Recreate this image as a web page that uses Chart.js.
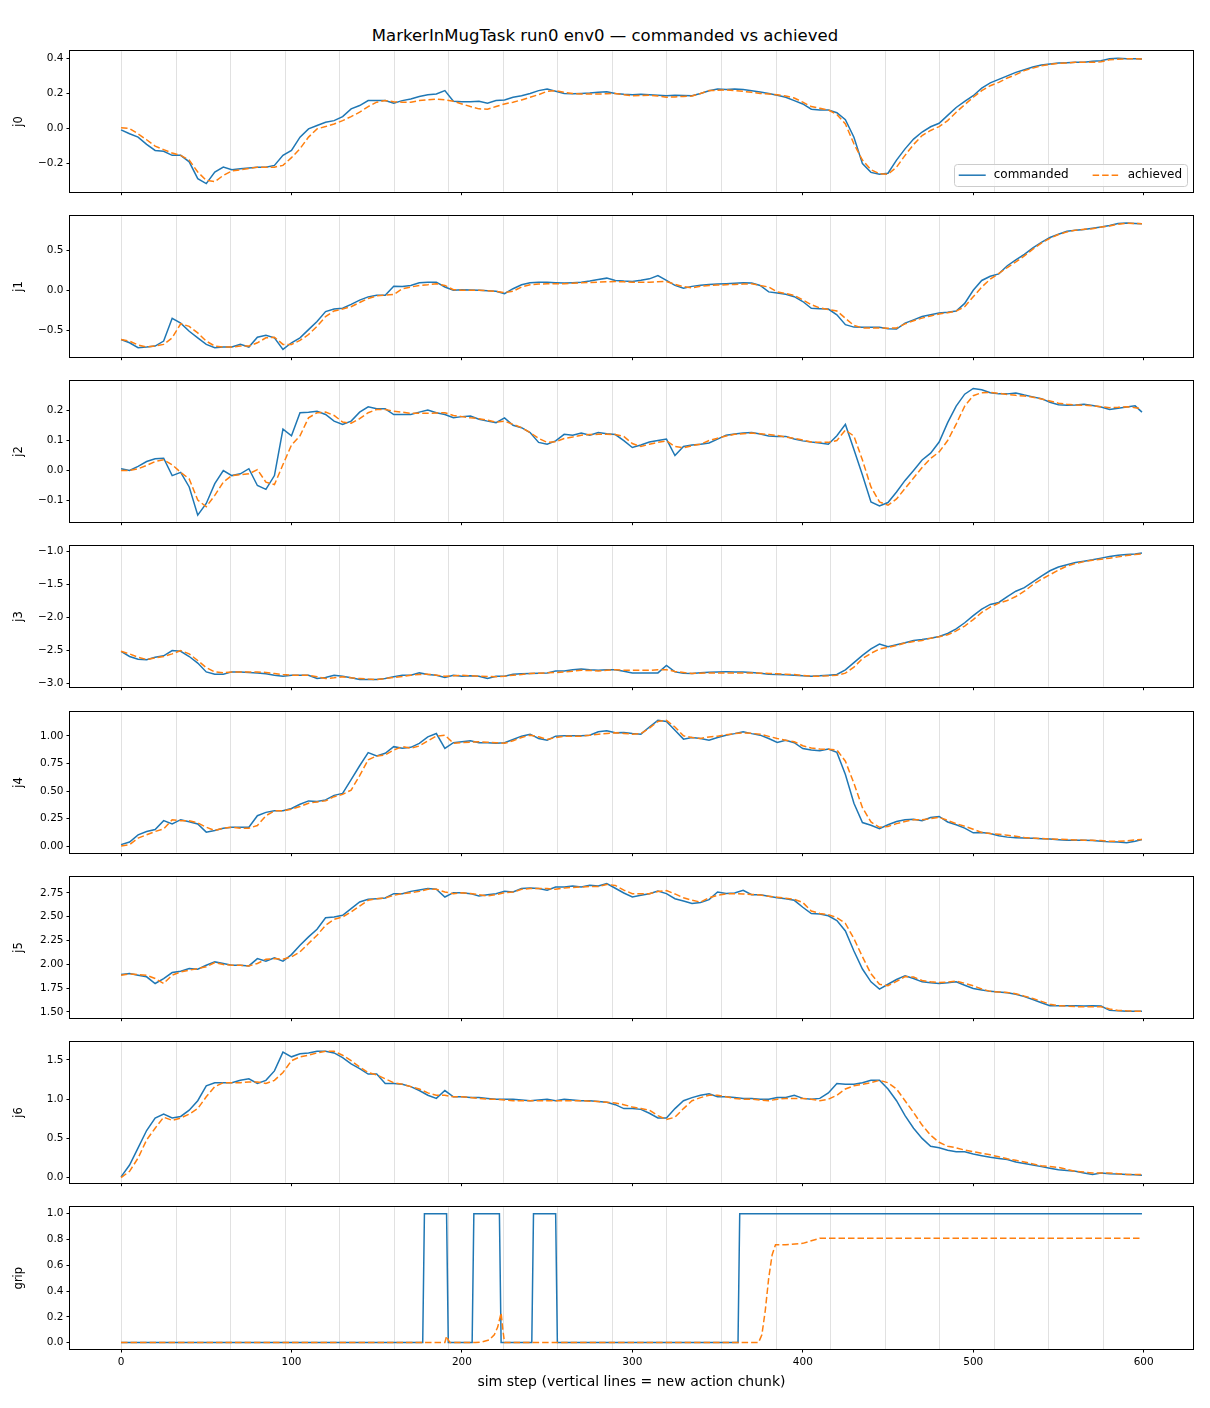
<!DOCTYPE html>
<html>
<head>
<meta charset="utf-8">
<title>MarkerInMugTask run0 env0 — commanded vs achieved</title>
<script src="https://cdn.jsdelivr.net/npm/chart.js@4.4.1/dist/chart.umd.min.js"></script>
<style>
  html, body { margin: 0; padding: 0; background: #fff; }
  body { width: 1210px; height: 1408px; position: relative; overflow: hidden; font-family: "DejaVu Sans", sans-serif; }
  #title { position: absolute; top: 26px; left: 0; width: 1210px; text-align: center; font-size: 16.5px; line-height: 20px; color: #000; }
  .panel { position: absolute; left: 0; width: 1210px; }
</style>
</head>
<body>
<div id="title">MarkerInMugTask run0 env0 — commanded vs achieved</div>
<div id="panels"></div>
<script>
// sim steps sampled every 5 (plus the last step)
const steps = [
  0,5,10,15,20,25,30,35,40,45,
  50,55,60,65,70,75,80,85,90,95,
  100,105,110,115,120,125,130,135,140,145,
  150,155,160,165,170,175,180,185,190,195,
  200,205,210,215,220,225,230,235,240,245,
  250,255,260,265,270,275,280,285,290,295,
  300,305,310,315,320,325,330,335,340,345,
  350,355,360,365,370,375,380,385,390,395,
  400,405,410,415,420,425,430,435,440,445,
  450,455,460,465,470,475,480,485,490,495,
  500,505,510,515,520,525,530,535,540,545,
  550,555,560,565,570,575,580,585,590,595,
  599
];

// new action chunk every 32 steps
const chunkStarts = [0,32,64,96,128,160,192,224,256,288,320,352,384,416,448,480,512,544,576];

const j0Cmd = [
  -0.008,-0.03,-0.049,-0.09,-0.125,-0.13,-0.153,-0.153,-0.19,-0.286,
  -0.314,-0.248,-0.22,-0.235,-0.229,-0.225,-0.22,-0.22,-0.21,-0.153,
  -0.125,-0.049,-0.002,0.017,0.036,0.045,0.068,0.112,0.131,0.159,
  0.159,0.159,0.144,0.159,0.168,0.182,0.193,0.197,0.216,0.155,
  0.153,0.152,0.155,0.144,0.159,0.163,0.178,0.187,0.2,0.216,
  0.225,0.212,0.2,0.198,0.2,0.202,0.206,0.21,0.2,0.195,
  0.193,0.195,0.192,0.19,0.187,0.19,0.188,0.187,0.2,0.215,
  0.225,0.222,0.225,0.222,0.215,0.208,0.2,0.19,0.178,0.159,
  0.14,0.11,0.106,0.106,0.09,0.05,-0.05,-0.2,-0.25,-0.261,
  -0.255,-0.18,-0.116,-0.06,-0.02,0.01,0.03,0.075,0.12,0.155,
  0.187,0.23,0.26,0.28,0.3,0.32,0.335,0.35,0.362,0.368,
  0.373,0.375,0.377,0.378,0.383,0.386,0.398,0.4,0.398,0.397,
  0.396
];
const j0Ach = [
  0.004,0.0,-0.03,-0.064,-0.1,-0.12,-0.14,-0.153,-0.18,-0.248,
  -0.295,-0.303,-0.267,-0.242,-0.235,-0.228,-0.22,-0.22,-0.22,-0.21,
  -0.166,-0.115,-0.049,-0.002,0.011,0.026,0.045,0.068,0.093,0.125,
  0.15,0.159,0.153,0.15,0.15,0.159,0.163,0.168,0.163,0.155,
  0.14,0.125,0.112,0.11,0.125,0.14,0.15,0.163,0.178,0.193,
  0.212,0.216,0.206,0.2,0.197,0.197,0.197,0.198,0.2,0.193,
  0.187,0.188,0.19,0.185,0.178,0.18,0.183,0.185,0.2,0.216,
  0.218,0.22,0.216,0.212,0.206,0.2,0.196,0.193,0.185,0.174,
  0.15,0.125,0.115,0.106,0.08,0.026,-0.087,-0.18,-0.235,-0.257,
  -0.261,-0.22,-0.153,-0.091,-0.04,-0.011,0.011,0.045,0.093,0.136,
  0.178,0.216,0.244,0.263,0.288,0.307,0.33,0.344,0.358,0.365,
  0.371,0.374,0.377,0.377,0.377,0.38,0.392,0.395,0.397,0.397,
  0.396
];

const j1Cmd = [
  -0.615,-0.656,-0.717,-0.709,-0.697,-0.635,-0.35,-0.41,-0.512,-0.594,
  -0.676,-0.717,-0.709,-0.709,-0.676,-0.709,-0.586,-0.561,-0.594,-0.738,
  -0.656,-0.594,-0.492,-0.389,-0.266,-0.234,-0.225,-0.176,-0.123,-0.082,
  -0.061,-0.061,0.05,0.049,0.061,0.094,0.102,0.102,0.041,0.0,
  0.008,0.005,0.0,-0.005,-0.012,-0.041,0.02,0.07,0.094,0.1,
  0.102,0.095,0.09,0.095,0.102,0.115,0.135,0.152,0.123,0.115,
  0.11,0.125,0.143,0.184,0.123,0.061,0.025,0.049,0.062,0.074,
  0.078,0.082,0.088,0.094,0.09,0.06,-0.02,-0.035,-0.05,-0.08,
  -0.14,-0.225,-0.23,-0.234,-0.307,-0.43,-0.46,-0.463,-0.463,-0.463,
  -0.48,-0.485,-0.41,-0.37,-0.328,-0.305,-0.285,-0.275,-0.26,-0.164,
  0.0,0.123,0.176,0.205,0.307,0.38,0.45,0.53,0.6,0.66,
  0.7,0.738,0.75,0.76,0.775,0.791,0.81,0.835,0.84,0.835,
  0.832
];
const j1Ach = [
  -0.615,-0.635,-0.684,-0.709,-0.697,-0.676,-0.594,-0.418,-0.451,-0.533,
  -0.635,-0.697,-0.709,-0.709,-0.697,-0.697,-0.656,-0.594,-0.586,-0.676,
  -0.676,-0.627,-0.553,-0.451,-0.328,-0.258,-0.234,-0.205,-0.152,-0.102,
  -0.07,-0.061,-0.053,0.02,0.041,0.061,0.07,0.082,0.061,0.008,
  0.0,0.0,0.0,-0.005,-0.012,-0.029,-0.012,0.041,0.07,0.078,
  0.082,0.082,0.082,0.088,0.094,0.098,0.102,0.106,0.11,0.106,
  0.102,0.102,0.102,0.106,0.11,0.075,0.045,0.03,0.05,0.061,
  0.065,0.07,0.074,0.078,0.082,0.06,0.041,-0.02,-0.04,-0.065,
  -0.12,-0.18,-0.22,-0.24,-0.258,-0.35,-0.44,-0.47,-0.471,-0.471,
  -0.475,-0.47,-0.42,-0.38,-0.348,-0.32,-0.297,-0.28,-0.26,-0.205,
  -0.08,0.04,0.14,0.21,0.285,0.355,0.43,0.515,0.59,0.65,
  0.697,0.73,0.752,0.762,0.77,0.79,0.805,0.825,0.84,0.835,
  0.832
];

const j2Cmd = [
  0.006,0.0,0.014,0.03,0.039,0.041,-0.017,-0.006,-0.055,-0.149,
  -0.11,-0.044,0.0,-0.017,-0.011,0.006,-0.05,-0.063,-0.017,0.138,
  0.116,0.193,0.195,0.198,0.187,0.165,0.154,0.165,0.195,0.213,
  0.206,0.206,0.187,0.187,0.187,0.195,0.202,0.193,0.187,0.176,
  0.18,0.182,0.171,0.165,0.16,0.176,0.151,0.143,0.127,0.094,
  0.088,0.099,0.121,0.118,0.125,0.118,0.127,0.123,0.12,0.1,
  0.077,0.085,0.095,0.1,0.105,0.05,0.08,0.085,0.088,0.092,
  0.105,0.118,0.122,0.125,0.127,0.122,0.115,0.114,0.114,0.105,
  0.099,0.095,0.092,0.088,0.116,0.154,0.07,-0.015,-0.105,-0.118,
  -0.107,-0.072,-0.033,0.0,0.035,0.058,0.095,0.16,0.215,0.255,
  0.274,0.27,0.26,0.256,0.256,0.259,0.252,0.246,0.24,0.228,
  0.22,0.218,0.219,0.221,0.217,0.212,0.204,0.208,0.212,0.216,
  0.195
];
const j2Ach = [
  0.0,0.0,0.006,0.017,0.03,0.036,0.019,-0.006,-0.028,-0.099,
  -0.121,-0.083,-0.039,-0.017,-0.014,-0.011,0.003,-0.039,-0.047,0.02,
  0.085,0.116,0.176,0.193,0.195,0.184,0.162,0.158,0.173,0.193,
  0.204,0.204,0.198,0.195,0.191,0.191,0.191,0.192,0.193,0.184,
  0.18,0.176,0.173,0.168,0.162,0.165,0.154,0.143,0.127,0.107,
  0.094,0.096,0.107,0.112,0.118,0.12,0.121,0.121,0.12,0.114,
  0.09,0.08,0.088,0.094,0.099,0.08,0.076,0.083,0.088,0.1,
  0.108,0.115,0.121,0.123,0.125,0.123,0.12,0.117,0.112,0.107,
  0.102,0.095,0.094,0.094,0.1,0.135,0.115,0.035,-0.055,-0.105,
  -0.116,-0.095,-0.06,-0.025,0.01,0.04,0.062,0.1,0.155,0.215,
  0.25,0.26,0.261,0.258,0.254,0.251,0.249,0.245,0.239,0.232,
  0.225,0.221,0.219,0.218,0.216,0.213,0.21,0.211,0.213,0.21,
  0.206
];

const j3Cmd = [
  -2.509,-2.588,-2.628,-2.638,-2.598,-2.578,-2.499,-2.509,-2.588,-2.687,
  -2.821,-2.856,-2.856,-2.821,-2.821,-2.83,-2.836,-2.85,-2.871,-2.886,
  -2.871,-2.87,-2.871,-2.921,-2.906,-2.871,-2.886,-2.911,-2.936,-2.936,
  -2.936,-2.921,-2.896,-2.871,-2.871,-2.836,-2.861,-2.871,-2.906,-2.871,
  -2.886,-2.88,-2.886,-2.921,-2.886,-2.886,-2.856,-2.85,-2.846,-2.84,
  -2.836,-2.806,-2.806,-2.787,-2.777,-2.79,-2.797,-2.787,-2.787,-2.81,
  -2.836,-2.836,-2.836,-2.836,-2.722,-2.821,-2.84,-2.846,-2.835,-2.825,
  -2.821,-2.82,-2.821,-2.821,-2.83,-2.84,-2.856,-2.86,-2.865,-2.871,
  -2.88,-2.886,-2.88,-2.871,-2.86,-2.79,-2.68,-2.57,-2.474,-2.4,
  -2.44,-2.41,-2.38,-2.345,-2.33,-2.31,-2.285,-2.24,-2.17,-2.077,
  -1.97,-1.87,-1.8,-1.77,-1.68,-1.6,-1.546,-1.46,-1.37,-1.29,
  -1.233,-1.2,-1.165,-1.145,-1.125,-1.099,-1.075,-1.057,-1.045,-1.035,
  -1.02
];
const j3Ach = [
  -2.509,-2.548,-2.598,-2.633,-2.608,-2.588,-2.548,-2.499,-2.548,-2.648,
  -2.757,-2.821,-2.836,-2.821,-2.821,-2.821,-2.821,-2.83,-2.846,-2.86,
  -2.871,-2.871,-2.871,-2.896,-2.921,-2.91,-2.896,-2.91,-2.921,-2.93,
  -2.936,-2.92,-2.906,-2.89,-2.871,-2.86,-2.856,-2.87,-2.886,-2.88,
  -2.871,-2.88,-2.886,-2.89,-2.896,-2.885,-2.871,-2.86,-2.846,-2.84,
  -2.836,-2.83,-2.821,-2.81,-2.797,-2.8,-2.806,-2.795,-2.787,-2.795,
  -2.797,-2.797,-2.797,-2.79,-2.787,-2.815,-2.83,-2.846,-2.84,-2.836,
  -2.836,-2.836,-2.836,-2.836,-2.836,-2.84,-2.845,-2.85,-2.856,-2.86,
  -2.875,-2.886,-2.886,-2.88,-2.871,-2.84,-2.75,-2.62,-2.54,-2.474,
  -2.45,-2.42,-2.385,-2.36,-2.345,-2.31,-2.29,-2.26,-2.2,-2.127,
  -2.03,-1.92,-1.84,-1.78,-1.74,-1.68,-1.6,-1.5,-1.42,-1.35,
  -1.28,-1.218,-1.18,-1.152,-1.13,-1.115,-1.1,-1.08,-1.058,-1.045,
  -1.035
];

const j4Cmd = [
  0.015,0.039,0.104,0.134,0.152,0.232,0.202,0.241,0.223,0.202,
  0.128,0.143,0.164,0.173,0.173,0.173,0.277,0.307,0.321,0.321,
  0.342,0.381,0.411,0.405,0.42,0.461,0.479,0.604,0.729,0.848,
  0.818,0.842,0.902,0.887,0.896,0.932,0.991,1.021,0.887,0.938,
  0.946,0.955,0.938,0.938,0.932,0.938,0.967,0.997,1.015,0.976,
  0.961,0.997,1.0,1.0,1.0,1.006,1.036,1.045,1.027,1.03,
  1.021,1.015,1.08,1.14,1.13,1.05,0.97,0.985,0.975,0.961,
  0.985,1.006,1.02,1.036,1.02,1.006,0.976,0.94,0.96,0.938,
  0.885,0.872,0.866,0.88,0.85,0.65,0.39,0.215,0.19,0.16,
  0.195,0.225,0.24,0.245,0.232,0.26,0.27,0.22,0.195,0.164,
  0.122,0.125,0.115,0.095,0.083,0.078,0.074,0.072,0.069,0.065,
  0.06,0.054,0.054,0.054,0.052,0.045,0.04,0.038,0.033,0.045,
  0.062
];
const j4Ach = [
  0.003,0.015,0.074,0.104,0.134,0.158,0.241,0.232,0.232,0.211,
  0.173,0.143,0.164,0.173,0.164,0.164,0.188,0.277,0.321,0.321,
  0.336,0.36,0.39,0.402,0.411,0.449,0.47,0.509,0.64,0.783,
  0.818,0.827,0.872,0.902,0.887,0.908,0.955,0.997,1.006,0.932,
  0.938,0.942,0.946,0.942,0.938,0.932,0.955,0.985,1.006,0.991,
  0.967,0.985,0.997,0.997,0.997,1.005,1.015,1.022,1.027,1.022,
  1.015,1.02,1.07,1.13,1.14,1.08,1.0,0.985,0.976,0.99,
  0.997,1.01,1.02,1.027,1.022,1.015,0.995,0.976,0.96,0.946,
  0.91,0.89,0.88,0.878,0.872,0.77,0.57,0.35,0.22,0.172,
  0.18,0.205,0.225,0.24,0.241,0.25,0.262,0.235,0.205,0.182,
  0.155,0.125,0.115,0.11,0.1,0.09,0.08,0.074,0.07,0.066,
  0.063,0.062,0.058,0.055,0.054,0.052,0.046,0.045,0.05,0.058,
  0.062
];

const j5Cmd = [
  1.892,1.903,1.885,1.868,1.798,1.85,1.913,1.927,1.955,1.948,
  1.99,2.025,2.008,1.99,1.99,1.983,2.06,2.032,2.067,2.032,
  2.102,2.2,2.288,2.368,2.49,2.498,2.515,2.585,2.655,2.683,
  2.69,2.697,2.743,2.743,2.767,2.781,2.796,2.789,2.708,2.753,
  2.753,2.743,2.718,2.732,2.743,2.767,2.76,2.796,2.803,2.796,
  2.778,2.813,2.813,2.824,2.813,2.831,2.824,2.848,2.8,2.75,
  2.708,2.725,2.743,2.77,2.743,2.69,2.665,2.64,2.65,2.68,
  2.76,2.745,2.75,2.778,2.732,2.732,2.715,2.7,2.69,2.673,
  2.6,2.533,2.53,2.51,2.46,2.35,2.14,1.95,1.815,1.738,
  1.79,1.84,1.88,1.85,1.815,1.805,1.798,1.805,1.815,1.78,
  1.745,1.73,1.715,1.708,1.7,1.685,1.66,1.63,1.595,1.563,
  1.563,1.563,1.563,1.56,1.565,1.56,1.515,1.51,1.505,1.507,
  1.507
];
const j5Ach = [
  1.885,1.899,1.892,1.885,1.85,1.798,1.885,1.92,1.938,1.955,
  1.973,2.018,1.997,1.99,1.99,1.983,2.008,2.053,2.06,2.053,
  2.078,2.13,2.218,2.305,2.41,2.473,2.498,2.55,2.613,2.673,
  2.69,2.697,2.725,2.743,2.753,2.767,2.789,2.789,2.76,2.743,
  2.753,2.745,2.732,2.718,2.732,2.753,2.76,2.789,2.796,2.796,
  2.796,2.789,2.803,2.808,2.813,2.818,2.818,2.84,2.83,2.78,
  2.743,2.743,2.743,2.765,2.775,2.74,2.7,2.673,2.655,2.7,
  2.725,2.74,2.743,2.74,2.735,2.73,2.715,2.705,2.695,2.683,
  2.65,2.56,2.535,2.522,2.49,2.43,2.27,2.08,1.9,1.79,
  1.775,1.82,1.87,1.865,1.83,1.815,1.808,1.812,1.822,1.8,
  1.773,1.74,1.715,1.708,1.704,1.69,1.665,1.64,1.61,1.58,
  1.563,1.56,1.555,1.553,1.553,1.553,1.53,1.515,1.51,1.507,
  1.507
];

const j6Cmd = [
  0.01,0.16,0.38,0.6,0.76,0.81,0.76,0.78,0.86,0.98,
  1.17,1.21,1.21,1.21,1.24,1.26,1.2,1.24,1.36,1.6,
  1.54,1.58,1.59,1.61,1.61,1.59,1.53,1.45,1.39,1.32,
  1.32,1.2,1.2,1.19,1.16,1.11,1.05,1.01,1.11,1.03,
  1.03,1.02,1.02,1.01,1.0,1.0,1.0,0.99,0.98,0.99,
  1.0,0.98,1.0,0.99,0.98,0.98,0.97,0.96,0.93,0.88,
  0.88,0.87,0.82,0.76,0.76,0.88,0.98,1.02,1.05,1.07,
  1.03,1.03,1.02,1.01,1.01,1.0,1.0,1.02,1.02,1.05,
  1.01,1.0,1.01,1.08,1.2,1.19,1.19,1.21,1.24,1.24,
  1.13,0.98,0.79,0.63,0.5,0.4,0.38,0.35,0.33,0.33,
  0.3,0.28,0.26,0.245,0.23,0.2,0.18,0.16,0.14,0.12,
  0.1,0.09,0.08,0.06,0.04,0.06,0.05,0.045,0.04,0.035,
  0.03
];
const j6Ach = [
  0.0,0.08,0.25,0.48,0.63,0.77,0.73,0.76,0.81,0.88,
  1.03,1.16,1.21,1.21,1.21,1.22,1.22,1.2,1.24,1.34,
  1.49,1.54,1.56,1.59,1.61,1.61,1.56,1.49,1.41,1.34,
  1.31,1.26,1.21,1.19,1.16,1.13,1.08,1.05,1.05,1.03,
  1.03,1.02,1.01,1.0,1.0,0.99,0.98,0.98,0.98,0.98,
  0.98,0.98,0.98,0.98,0.98,0.975,0.97,0.96,0.95,0.93,
  0.9,0.88,0.86,0.79,0.74,0.77,0.88,0.98,1.02,1.05,
  1.05,1.03,1.01,1.0,1.0,0.99,0.98,1.0,1.01,1.01,
  1.01,1.0,0.98,1.0,1.05,1.13,1.17,1.19,1.21,1.24,
  1.21,1.13,0.98,0.83,0.67,0.54,0.45,0.4,0.38,0.35,
  0.33,0.31,0.29,0.265,0.24,0.22,0.2,0.175,0.15,0.14,
  0.13,0.105,0.08,0.07,0.06,0.06,0.06,0.05,0.04,0.04,
  0.04
];

// gripper: step-like, so it keeps its own sample points
const gripCmdSteps = [0,177,178,191,192,206,207,222,223,241,242,255,256,362,363,599];
const gripCmd      = [0,0,1,1,0,0,1,1,0,0,1,1,0,0,1,1];
const gripAchSteps = [0,190,191,192,193,208,212,216,219,221,223,224,225,374,376,378,380,382,384,390,400,405,410,599];
const gripAch      = [0,0,0.05,0.02,0,0,0.005,0.02,0.06,0.12,0.23,0.1,0,0,0.06,0.25,0.5,0.68,0.76,0.76,0.77,0.79,0.81,0.81];

// tick values and labels
const xTicks = [0,100,200,300,400,500,600];
const xTickLabels = ['0','100','200','300','400','500','600'];
const j0Ticks = [-0.2,0.0,0.2,0.4];          const j0TickLabels = ['\u22120.2','0.0','0.2','0.4'];
const j1Ticks = [-0.5,0.0,0.5];              const j1TickLabels = ['\u22120.5','0.0','0.5'];
const j2Ticks = [-0.1,0.0,0.1,0.2];          const j2TickLabels = ['\u22120.1','0.0','0.1','0.2'];
const j3Ticks = [-3.0,-2.5,-2.0,-1.5,-1.0];  const j3TickLabels = ['\u22123.0','\u22122.5','\u22122.0','\u22121.5','\u22121.0'];
const j4Ticks = [0,0.25,0.5,0.75,1.0];       const j4TickLabels = ['0.00','0.25','0.50','0.75','1.00'];
const j5Ticks = [1.5,1.75,2.0,2.25,2.5,2.75]; const j5TickLabels = ['1.50','1.75','2.00','2.25','2.50','2.75'];
const j6Ticks = [0,0.5,1.0,1.5];             const j6TickLabels = ['0.0','0.5','1.0','1.5'];
const gripTicks = [0,0.2,0.4,0.6,0.8,1.0];   const gripTickLabels = ['0.0','0.2','0.4','0.6','0.8','1.0'];

const CMD_COLOR = '#1f77b4';
const ACH_COLOR = '#ff7f0e';
const FONT = '"DejaVu Sans", sans-serif';
const LINE_W = 1.5;

const PLOT_LEFT = 70, PLOT_RIGHT = 1193;
const PANEL_TOP0 = 50, PANEL_STEP = 165.15, PANEL_H = 143;
const X_MIN = -29.95, X_MAX = 628.95;

Chart.defaults.font.family = FONT;
Chart.defaults.color = '#000';

const panels = [
  { name: 'j0',   cmdX: steps, cmd: j0Cmd, achX: steps, ach: j0Ach, min: -0.36,  max: 0.44,  ticks: j0Ticks, labels: j0TickLabels },
  { name: 'j1',   cmdX: steps, cmd: j1Cmd, achX: steps, ach: j1Ach, min: -0.83,  max: 0.925, ticks: j1Ticks, labels: j1TickLabels },
  { name: 'j2',   cmdX: steps, cmd: j2Cmd, achX: steps, ach: j2Ach, min: -0.171, max: 0.298, ticks: j2Ticks, labels: j2TickLabels },
  { name: 'j3',   cmdX: steps, cmd: j3Cmd, achX: steps, ach: j3Ach, min: -3.045, max: -0.92, ticks: j3Ticks, labels: j3TickLabels },
  { name: 'j4',   cmdX: steps, cmd: j4Cmd, achX: steps, ach: j4Ach, min: -0.058, max: 1.213, ticks: j4Ticks, labels: j4TickLabels },
  { name: 'j5',   cmdX: steps, cmd: j5Cmd, achX: steps, ach: j5Ach, min: 1.438,  max: 2.915, ticks: j5Ticks, labels: j5TickLabels },
  { name: 'j6',   cmdX: steps, cmd: j6Cmd, achX: steps, ach: j6Ach, min: -0.065, max: 1.725, ticks: j6Ticks, labels: j6TickLabels },
  { name: 'grip', cmdX: gripCmdSteps, cmd: gripCmd, achX: gripAchSteps, ach: gripAch, min: -0.05, max: 1.05, ticks: gripTicks, labels: gripTickLabels }
];

// grey vertical line at every chunk start, behind the data
const chunkLines = {
  id: 'chunkLines',
  beforeDatasetsDraw(chart) {
    const { ctx, chartArea: a, scales: { x } } = chart;
    ctx.save();
    ctx.strokeStyle = 'rgba(128,128,128,0.3)';
    ctx.lineWidth = 0.8;
    chunkStarts.forEach(s => {
      const px = Math.round(x.getPixelForValue(s)) + 0.5;
      ctx.beginPath();
      ctx.moveTo(px, a.top);
      ctx.lineTo(px, a.bottom);
      ctx.stroke();
    });
    ctx.restore();
  }
};

// box around the axes like matplotlib spines
const frame = {
  id: 'frame',
  afterDraw(chart) {
    const { ctx, chartArea: a } = chart;
    ctx.save();
    ctx.strokeStyle = '#000';
    ctx.lineWidth = 1;
    const l = Math.round(a.left) - 0.5, t = Math.round(a.top) - 0.5;
    ctx.strokeRect(l, t, Math.round(a.right) - Math.round(a.left) + 1, Math.round(a.bottom) - Math.round(a.top) + 1);
    ctx.restore();
  }
};

// matplotlib style legend in the lower right of the axes
const mplLegend = {
  id: 'mplLegend',
  afterDraw(chart, args, opts) {
    if (!opts.show) return;
    const { ctx, chartArea: a } = chart;
    ctx.save();
    ctx.font = '12px ' + FONT;
    const items = chart.data.datasets.map(d => ({ label: d.label, color: d.borderColor, dash: d.borderDash || [] }));
    const pad = 5, handle = 27, gap = 8, colGap = 24, h = 22;
    let w = pad * 2;
    items.forEach((it, k) => { w += handle + gap + ctx.measureText(it.label).width + (k ? colGap : 0); });
    const right = a.right - 6, bottom = a.bottom - 6;
    const left = right - w, top = bottom - h;
    ctx.fillStyle = 'rgba(255,255,255,0.8)';
    ctx.strokeStyle = '#cccccc';
    ctx.lineWidth = 1;
    ctx.beginPath();
    if (ctx.roundRect) ctx.roundRect(Math.round(left) + 0.5, Math.round(top) + 0.5, Math.round(w), h, 3);
    else ctx.rect(Math.round(left) + 0.5, Math.round(top) + 0.5, Math.round(w), h);
    ctx.fill();
    ctx.stroke();
    let cx = left + pad;
    const cy = top + h / 2 + 0.5;
    items.forEach((it, k) => {
      if (k) cx += colGap;
      ctx.strokeStyle = it.color;
      ctx.lineWidth = LINE_W;
      ctx.setLineDash(it.dash);
      ctx.beginPath();
      ctx.moveTo(cx, cy);
      ctx.lineTo(cx + handle, cy);
      ctx.stroke();
      ctx.setLineDash([]);
      cx += handle + gap;
      ctx.fillStyle = '#000';
      ctx.textAlign = 'left';
      ctx.textBaseline = 'middle';
      ctx.fillText(it.label, cx, cy);
      cx += ctx.measureText(it.label).width;
    });
    ctx.restore();
  }
};

function toPoints(xs, ys) {
  return xs.map((s, k) => ({ x: s, y: ys[k] }));
}

panels.forEach((p, i) => {
  const isLast = i === panels.length - 1;
  const top = Math.round(PANEL_TOP0 + i * PANEL_STEP);
  const padTop = 8;
  const xAxisH = isLast ? 1408 - (top - padTop) - padTop - PANEL_H : 8;

  const wrap = document.createElement('div');
  wrap.className = 'panel';
  wrap.style.top = (top - padTop) + 'px';
  wrap.style.height = (padTop + PANEL_H + xAxisH) + 'px';
  const canvas = document.createElement('canvas');
  wrap.appendChild(canvas);
  document.getElementById('panels').appendChild(wrap);

  new Chart(canvas, {
    type: 'line',
    data: {
      datasets: [
        { label: 'commanded', data: toPoints(p.cmdX, p.cmd), borderColor: CMD_COLOR, borderWidth: LINE_W, order: 1 },
        { label: 'achieved', data: toPoints(p.achX, p.ach), borderColor: ACH_COLOR, borderWidth: LINE_W, borderDash: [6.5, 3], order: 0 }
      ]
    },
    options: {
      animation: false,
      responsive: true,
      maintainAspectRatio: false,
      parsing: false,
      layout: { padding: { top: padTop, right: 1210 - PLOT_RIGHT, left: 0, bottom: 0 } },
      elements: { point: { radius: 0 }, line: { tension: 0, fill: false } },
      plugins: {
        legend: { display: false },
        tooltip: { enabled: false },
        mplLegend: { show: i === 0 }
      },
      scales: {
        x: {
          type: 'linear',
          min: X_MIN,
          max: X_MAX,
          afterBuildTicks: ax => { ax.ticks = xTicks.map(v => ({ value: v })); },
          afterFit: ax => { ax.height = xAxisH; },
          border: { display: false },
          grid: { drawOnChartArea: false, drawTicks: true, tickLength: 3.5, color: '#000', lineWidth: 1 },
          ticks: {
            autoSkip: false, maxRotation: 0, padding: 3, color: '#000',
            font: { size: 10.5 },
            callback: (v, k) => isLast ? xTickLabels[k] : ''
          },
          title: {
            display: isLast,
            text: 'sim step (vertical lines = new action chunk)',
            color: '#000',
            font: { size: 14 },
            padding: { top: 0, bottom: 17.5 }
          }
        },
        y: {
          type: 'linear',
          min: p.min,
          max: p.max,
          afterBuildTicks: ax => { ax.ticks = p.ticks.map(v => ({ value: v })); },
          afterFit: ax => { ax.width = PLOT_LEFT; },
          border: { display: false },
          grid: { drawOnChartArea: false, drawTicks: true, tickLength: 3.5, color: '#000', lineWidth: 1 },
          ticks: {
            autoSkip: false, padding: 3, color: '#000',
            font: { size: 10.5 },
            callback: (v, k) => p.labels[k]
          },
          title: {
            display: true,
            text: p.name,
            color: '#000',
            font: { size: 11.5 },
            padding: { top: 12, bottom: 0 }
          }
        }
      }
    },
    plugins: [chunkLines, frame, mplLegend]
  });
});
</script>
</body>
</html>
